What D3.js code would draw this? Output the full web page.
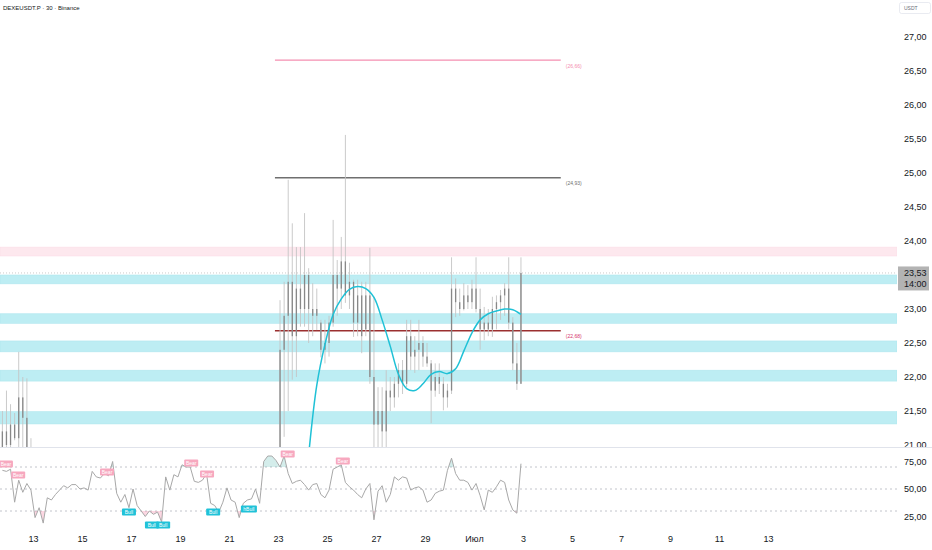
<!DOCTYPE html>
<html>
<head>
<meta charset="utf-8">
<script src="https://cdn.jsdelivr.net/npm/d3@7"></script>
<style>
  body { margin: 0; background: #fff; }
  svg { display: block; font-family: "Liberation Sans", Arial, sans-serif; }
</style>
</head>
<body>
<svg id="chart" width="932" height="550"></svg>
<script>
// ---- data ----
var title = 'DEXEUSDT.P · 30 · Binance';
var currency = 'USDT';

// 4h buckets, two visible stretches (price is below 21 in between)
var candleSegments = ['2025-06-11T16:00', '2025-06-23T00:00'];
var candleCounts = [8, 60];
var opens = [20.8, 21.2, 21.0, 21.3, 21.1, 21.7, 21.4, 20.8,
  20.8, 22.4, 22.9, 23.4, 22.6, 23.3, 23.0, 23.5, 23.0, 22.9,
  22.8, 22.4, 22.5, 22.8, 23.5, 23.3, 23.7, 23.2, 23.4, 22.8,
  23.2, 22.7, 23.2, 22.0, 21.3, 21.5, 21.2, 21.8, 21.7, 21.9,
  22.1, 21.9, 22.6, 22.3, 22.4, 22.5, 22.3, 22.2, 21.8, 22.0,
  21.9, 21.7, 21.8, 23.3, 23.1, 23.0, 23.2, 23.1, 23.3, 23.0,
  22.7, 22.8, 22.7, 23.0, 23.1, 23.2, 23.3, 22.8, 22.2, 21.9];
var highs = [21.5, 21.8, 21.6, 21.47, 22.37, 22.0, 21.98, 21.1,
  23.13, 23.4, 24.9, 24.26, 23.91, 23.91, 24.41, 23.6, 23.38, 23.3,
  22.84, 22.84, 22.9, 24.31, 23.72, 24.06, 25.56, 23.68, 23.43, 23.43,
  23.4, 23.4, 23.9, 23.18, 21.85, 21.85, 22.1, 22.0, 22.0, 22.2,
  22.25, 22.84, 22.84, 22.6, 22.84, 22.6, 22.5, 22.25, 22.2, 22.2,
  22.0, 21.9, 23.76, 23.45, 23.3, 23.38, 23.35, 23.43, 23.76, 23.3,
  23.03, 23.0, 23.18, 23.2, 23.28, 23.38, 23.76, 22.88, 22.5, 23.76];
var lows = [20.6, 20.6, 20.7, 21.07, 20.7, 20.9, 20.6, 20.5,
  20.5, 21.12, 21.5, 21.96, 22.0, 22.74, 22.74, 22.5, 22.6, 22.69,
  22.29, 22.2, 22.3, 22.74, 22.9, 23.0, 23.09, 23.0, 22.59, 22.6,
  22.35, 22.6, 21.9, 20.6, 20.6, 20.8, 20.9, 21.5, 21.55, 21.7,
  21.75, 21.85, 22.1, 22.06, 22.1, 22.15, 22.15, 21.32, 21.71, 21.75,
  21.51, 21.55, 21.75, 22.88, 22.9, 22.98, 23.0, 23.0, 22.95, 22.4,
  22.54, 22.6, 22.59, 22.7, 22.84, 22.9, 22.7, 22.1, 21.81, 21.9];
var closes = [21.2, 21.0, 21.3, 21.1, 21.7, 21.4, 20.8, 20.7,
  22.4, 22.9, 23.4, 22.6, 23.3, 23.0, 23.5, 23.0, 22.9, 23.0,
  22.4, 22.5, 22.8, 23.5, 23.3, 23.7, 23.2, 23.4, 22.8, 23.2,
  22.6, 23.2, 22.0, 21.3, 21.5, 21.2, 21.8, 21.7, 21.9, 22.1,
  21.9, 22.6, 22.3, 22.4, 22.5, 22.3, 22.2, 21.8, 22.0, 21.9,
  21.7, 21.8, 23.3, 23.1, 23.0, 23.2, 23.1, 23.3, 23.0, 22.7,
  22.8, 22.7, 23.0, 23.1, 23.2, 23.3, 22.8, 22.2, 21.9, 23.53];

// smoothed trend curve, every 8h
var trendStart = '2025-06-24T06:00';
var trendValues = [20.85, 21.88, 22.48, 22.92, 23.15, 23.29, 23.33, 23.30, 23.17,
  22.84, 22.45, 22.04, 21.83, 21.80, 21.90, 22.04, 22.08, 22.05, 22.12,
  22.38, 22.65, 22.84, 22.93, 22.97, 23.00, 22.99, 22.92];

// horizontal levels drawn on the chart
var levelPrices = [26.66, 24.93, 22.68];
var levelFrom = '2025-06-22T21:00';
var levelTo = '2025-07-04T13:00';

// zones: first is supply (pink), rest demand (cyan)
var zoneLows = [23.78, 23.37, 22.79, 22.37, 21.94, 21.31];
var zoneHighs = [23.91, 23.50, 22.93, 22.53, 22.10, 21.49];

var lastPrice = 23.53;
var countdown = '14:00';

// RSI, 4h buckets
var rsiStart = '2025-06-11T16:00';
var rsiValues = [67, 66, 68, 38, 58, 47, 55, 49, 24, 33,
  19, 42, 40, 45, 49, 53, 51, 54, 54, 50,
  51, 49, 66, 61, 60, 64, 62, 75, 46, 38,
  45, 33, 50, 35, 30, 25, 30, 27, 29, 20,
  61, 49, 63, 61, 72, 70, 70, 57, 56, 58,
  64, 37, 35, 29, 38, 51, 40, 38, 24, 37,
  40, 41, 50, 37, 75, 80, 80, 76, 70, 80,
  64, 55, 57, 58, 54, 49, 54, 55, 45, 42,
  49, 68, 70, 72, 56, 52, 49, 45, 42, 50,
  55, 22, 48, 53, 38, 45, 61, 58, 61, 60,
  49, 51, 52, 49, 38, 40, 46, 48, 49, 67,
  78, 64, 58, 58, 56, 49, 55, 44, 31, 49,
  47, 52, 58, 56, 40, 31, 28, 73];
var rsiLevels = [70, 50, 30];
var rsiTicks = [25, 50, 75];

var signalTimes = ['2025-06-11T21:30', '2025-06-12T09:30', '2025-06-16T00:30', '2025-06-16T22:00',
  '2025-06-17T20:30', '2025-06-18T07:30', '2025-06-19T11:00', '2025-06-20T02:30',
  '2025-06-20T08:30', '2025-06-21T19:30', '2025-06-23T09:30', '2025-06-25T15:30'];
var signalRsi = [72.7, 62.7, 65.5, 29, 17.3, 17.3, 73.6, 63.6, 29, 31.8, 81.8, 75.5];
var signalTexts = ['Bear', 'Bear', 'Bear', 'Bull', 'Bull', 'Bull', 'Bear', 'Bear', 'Bull', 'hBull', 'Bear', 'Bear'];

var priceTicks = [21, 21.5, 22, 22.5, 23, 24, 24.5, 25, 25.5, 26, 26.5, 27];
var xTickDates = ['2025-06-13', '2025-06-15', '2025-06-17', '2025-06-19', '2025-06-21', '2025-06-23',
  '2025-06-25', '2025-06-27', '2025-06-29', '2025-07-01', '2025-07-03', '2025-07-05',
  '2025-07-07', '2025-07-09', '2025-07-11', '2025-07-13'];
var xTickLabels = ['13', '15', '17', '19', '21', '23', '25', '27', '29', 'Июл', '3', '5', '7', '9', '11', '13'];

// ---- layout ----
var W = 932, H = 550;
var plotRight = 897;
var pricePane = { top: 0, bottom: 447 };
var rsiPane = { top: 448, bottom: 528 };
var HOUR = 3600 * 1000;
var parse = function (s) { return new Date(s.length > 10 ? s : s + 'T00:00'); };
var fmt = function (v) { return v.toFixed(2).replace('.', ','); };

var svg = d3.select('#chart');

var x = d3.scaleTime()
  .domain([parse('2025-06-13'), parse('2025-07-03')])
  .range([33, 523]);
var y = d3.scaleLinear().domain([21, 27]).range([445, 37]);
var ry = d3.scaleLinear().domain([25, 75]).range([516.5, 461.5]);

var defs = svg.append('defs');
defs.append('clipPath').attr('id', 'clipPrice')
  .append('rect').attr('x', 0).attr('y', pricePane.top)
  .attr('width', plotRight).attr('height', pricePane.bottom - pricePane.top);
defs.append('clipPath').attr('id', 'clipPriceAxis')
  .append('rect').attr('x', plotRight).attr('y', pricePane.top)
  .attr('width', W - plotRight).attr('height', pricePane.bottom - pricePane.top);
defs.append('clipPath').attr('id', 'clipOver')
  .append('rect').attr('x', 0).attr('y', rsiPane.top)
  .attr('width', plotRight).attr('height', ry(70) - rsiPane.top);
defs.append('clipPath').attr('id', 'clipUnder')
  .append('rect').attr('x', 0).attr('y', ry(30))
  .attr('width', plotRight).attr('height', rsiPane.bottom - ry(30));

// candles flattened with times
var candles = [];
var ci = 0;
candleSegments.forEach(function (s, si) {
  var t0 = parse(s).getTime();
  for (var j = 0; j < candleCounts[si]; j++, ci++) {
    candles.push({ t: new Date(t0 + (j * 4 + 2) * HOUR), o: opens[ci], h: highs[ci], l: lows[ci], c: closes[ci] });
  }
});

// ---- price pane ----
var price = svg.append('g').attr('clip-path', 'url(#clipPrice)');

price.selectAll('rect.zone')
  .data(zoneLows.map(function (lo, i) { return { lo: lo, hi: zoneHighs[i], supply: i === 0 }; }))
  .enter().append('rect')
  .attr('class', 'zone')
  .attr('x', 0).attr('width', plotRight)
  .attr('y', function (d) { return y(d.hi); })
  .attr('height', function (d) { return y(d.lo) - y(d.hi); })
  .style('fill', function (d) { return d.supply ? '#fde8ee' : '#bdedf3'; })
  .style('stroke', function (d) { return d.supply ? '#fbdde6' : '#aee6ee'; })
  .style('stroke-width', 0.6);

// last price dotted line
price.append('line')
  .attr('x1', 0).attr('x2', plotRight)
  .attr('y1', y(lastPrice)).attr('y2', y(lastPrice))
  .style('stroke', '#a8a8a8').style('stroke-width', 0.6).style('stroke-dasharray', '1,2');

var levelColors = ['#f48fb1', '#6f6f6f', '#9b2f2f'];
var levelTextColors = ['#f48fb1', '#6f6f6f', '#d6336c'];
price.selectAll('line.level')
  .data(levelPrices).enter().append('line')
  .attr('class', 'level')
  .attr('x1', x(parse(levelFrom))).attr('x2', x(parse(levelTo)))
  .attr('y1', function (d) { return y(d); }).attr('y2', function (d) { return y(d); })
  .style('stroke', function (d, i) { return levelColors[i]; })
  .style('stroke-width', 1.3);
price.selectAll('text.level')
  .data(levelPrices).enter().append('text')
  .attr('class', 'level')
  .attr('x', x(parse(levelTo)) + 5)
  .attr('y', function (d) { return y(d) + 7.5; })
  .style('font-size', '5px')
  .style('fill', function (d, i) { return levelTextColors[i]; })
  .text(function (d) { return '(' + fmt(d) + ')'; });

// candles
var cg = price.append('g');
cg.selectAll('line.wick')
  .data(candles).enter().append('line')
  .attr('class', 'wick')
  .attr('x1', function (d) { return x(d.t); }).attr('x2', function (d) { return x(d.t); })
  .attr('y1', function (d) { return y(d.h); }).attr('y2', function (d) { return y(d.l); })
  .style('stroke', '#c4c4c4').style('stroke-width', 0.9);
cg.selectAll('rect.body')
  .data(candles).enter().append('rect')
  .attr('class', 'body')
  .attr('x', function (d) { return x(d.t) - 0.65; })
  .attr('width', 1.3)
  .attr('y', function (d) { return y(Math.max(d.o, d.c)); })
  .attr('height', function (d) { return Math.max(0.8, Math.abs(y(d.o) - y(d.c))); })
  .style('fill', '#888888');

// trend curve
var t0 = parse(trendStart).getTime();
price.append('path')
  .datum(trendValues.map(function (v, i) { return { t: new Date(t0 + i * 8 * HOUR), v: v }; }))
  .attr('d', d3.line()
    .x(function (d) { return x(d.t); })
    .y(function (d) { return y(d.v); })
    .curve(d3.curveCatmullRom))
  .style('fill', 'none').style('stroke', '#1fc1d6').style('stroke-width', 1.5);

// ---- price axis ----
var pAxis = svg.append('g').attr('clip-path', 'url(#clipPriceAxis)')
  .append('g')
  .attr('transform', 'translate(' + (plotRight + 2) + ',0)')
  .call(d3.axisRight(y).tickValues(priceTicks).tickFormat(fmt).tickSize(0).tickPadding(5));
pAxis.select('.domain').remove();
pAxis.selectAll('text').style('font-size', '9px').style('fill', '#131722')
  .style('font-family', '"Liberation Sans", Arial, sans-serif');

// last price label
var ly = y(lastPrice);
svg.append('rect').attr('x', 898).attr('y', ly - 6.5).attr('width', 31).attr('height', 24)
  .style('fill', '#b3b3b3');
svg.append('text').attr('x', 904).attr('y', ly + 3).style('font-size', '9px').style('fill', '#131722').text(fmt(lastPrice));
svg.append('text').attr('x', 904).attr('y', ly + 14).style('font-size', '9px').style('fill', '#131722').text(countdown);

// currency box
svg.append('rect').attr('x', 899.5).attr('y', 2.5).attr('width', 31).attr('height', 11).attr('rx', 2)
  .style('fill', '#fff').style('stroke', '#e0e3eb').style('stroke-width', 0.7);
svg.append('text').attr('x', 904).attr('y', 10).style('font-size', '5px').style('fill', '#6a6d78').text(currency);

// title
svg.append('text').attr('x', 3).attr('y', 10).style('font-size', '6px').style('fill', '#131722').text(title);

// pane separator
svg.append('line').attr('x1', 0).attr('x2', W).attr('y1', 447.5).attr('y2', 447.5)
  .style('stroke', '#e0e3eb').style('stroke-width', 1);

// ---- RSI pane ----
var r0 = parse(rsiStart).getTime();
var rsi = rsiValues.map(function (v, i) { return { t: new Date(r0 + (i * 4 + 2) * HOUR), v: v }; });
var rg = svg.append('g');

rg.selectAll('line.rlevel')
  .data(rsiLevels).enter().append('line')
  .attr('class', 'rlevel')
  .attr('x1', 0).attr('x2', plotRight)
  .attr('y1', function (d) { return ry(d); }).attr('y2', function (d) { return ry(d); })
  .style('stroke', '#b2b5be').style('stroke-width', 0.8).style('stroke-dasharray', '2,3');

rg.append('path').datum(rsi)
  .attr('clip-path', 'url(#clipOver)')
  .attr('d', d3.area().x(function (d) { return x(d.t); }).y0(ry(70)).y1(function (d) { return ry(d.v); }))
  .style('fill', 'rgba(38,166,154,0.2)');
rg.append('path').datum(rsi)
  .attr('clip-path', 'url(#clipUnder)')
  .attr('d', d3.area().x(function (d) { return x(d.t); }).y0(ry(30)).y1(function (d) { return ry(d.v); }))
  .style('fill', 'rgba(242,54,109,0.2)');
rg.append('path').datum(rsi)
  .attr('d', d3.line().x(function (d) { return x(d.t); }).y(function (d) { return ry(d.v); }))
  .style('fill', 'none').style('stroke', '#a8a8a8').style('stroke-width', 1);

var tags = rg.selectAll('g.tag')
  .data(signalTexts.map(function (s, i) { return { s: s, t: parse(signalTimes[i]), v: signalRsi[i] }; }))
  .enter().append('g')
  .attr('class', 'tag')
  .attr('transform', function (d) { return 'translate(' + x(d.t) + ',' + ry(d.v) + ')'; });
tags.append('rect')
  .attr('x', function (d) { return d.s === 'hBull' ? -8 : -7; })
  .attr('width', function (d) { return d.s === 'hBull' ? 16 : 14; })
  .attr('y', -3.5).attr('height', 7).attr('rx', 1)
  .style('fill', function (d) { return d.s === 'Bear' ? '#f7a8bf' : '#20c2d8'; });
tags.append('text')
  .attr('text-anchor', 'middle').attr('y', 1.8)
  .style('font-size', '5px').style('fill', '#fff')
  .text(function (d) { return d.s; });

var rAxis = svg.append('g')
  .attr('transform', 'translate(' + (plotRight + 2) + ',0)')
  .call(d3.axisRight(ry).tickValues(rsiTicks).tickFormat(fmt).tickSize(0).tickPadding(5));
rAxis.select('.domain').remove();
rAxis.selectAll('text').style('font-size', '9px').style('fill', '#131722')
  .style('font-family', '"Liberation Sans", Arial, sans-serif');

// ---- time axis ----
var xAxis = svg.append('g')
  .attr('transform', 'translate(0,' + 533 + ')')
  .call(d3.axisBottom(x)
    .tickValues(xTickDates.map(parse))
    .tickFormat(function (d, i) { return xTickLabels[i]; })
    .tickSize(0).tickPadding(3));
xAxis.select('.domain').remove();
xAxis.selectAll('text').style('font-size', '9px').style('fill', '#131722')
  .style('font-family', '"Liberation Sans", Arial, sans-serif');
</script>
</body>
</html>
